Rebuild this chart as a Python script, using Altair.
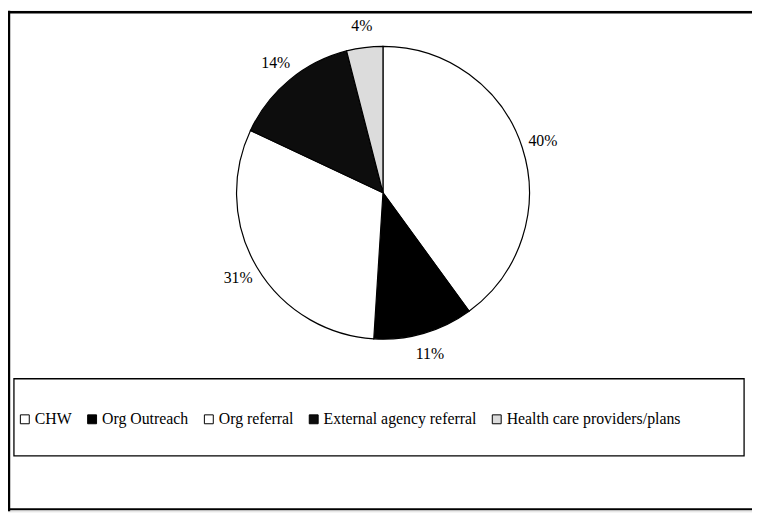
import altair as alt
import pandas as pd

categories = ["CHW", "Org Outreach", "Org referral", "External agency referral", "Health care providers/plans"]
shares = [40, 11, 31, 14, 4]
labels = ["40%", "11%", "31%", "14%", "4%"]
fills = ["#ffffff", "#000000", "#ffffff", "#0d0d0d", "#dcdcdc"]

df = pd.DataFrame({"category": categories, "share": shares, "label": labels, "idx": list(range(len(categories)))})

W, H = 752, 506
FONT = "Liberation Serif"
one = alt.Data(values=[{"a": 1}])

cx, cy = 379, 184

base = alt.Chart(df).encode(
    theta=alt.Theta("share:Q", stack=True),
    order=alt.Order("idx:Q"),
)

arcs = base.mark_arc(radius=148, stroke="black", strokeWidth=1.2).encode(
    x=alt.value(cx), y=alt.value(cy),
    color=alt.Color(
        "category:N",
        scale=alt.Scale(domain=categories, range=fills),
        legend=alt.Legend(
            orient="none", legendX=9, legendY=405, direction="horizontal", columns=5,
            title=None, symbolType="square", symbolSize=81, symbolStrokeColor="black",
            symbolStrokeWidth=1, labelFont=FONT, labelFontSize=16, labelLimit=0,
            labelColor="black", columnPadding=12, labelOffset=2, padding=0,
        ),
    ),
)

texts = base.mark_text(radius=170, font=FONT, fontSize=16, color="black").encode(
    x=alt.value(cx), y=alt.value(cy), text="label:N"
)

frame_top = alt.Chart(one).mark_rule(color="black", strokeWidth=2.5).encode(
    x=alt.value(0), x2=alt.value(W), y=alt.value(1.5))
frame_left = alt.Chart(one).mark_rule(color="black", strokeWidth=2.5).encode(
    x=alt.value(1), y=alt.value(0), y2=alt.value(H))
frame_bottom = alt.Chart(one).mark_rule(color="black", strokeWidth=2).encode(
    x=alt.value(0), x2=alt.value(W), y=alt.value(H - 2))
legend_box = alt.Chart(one).mark_rect(fill="white", fillOpacity=0, stroke="black", strokeWidth=1.3).encode(
    x=alt.value(6), x2=alt.value(744), y=alt.value(372), y2=alt.value(450))

chart = alt.layer(frame_top, frame_left, frame_bottom, legend_box, arcs, texts).properties(
    width=W, height=H, padding=0, autosize=alt.AutoSizeParams(type="none"),
).configure_view(stroke=None).configure(background="white")

chart.save("out.html", embed_options={"renderer": "svg", "actions": False})
